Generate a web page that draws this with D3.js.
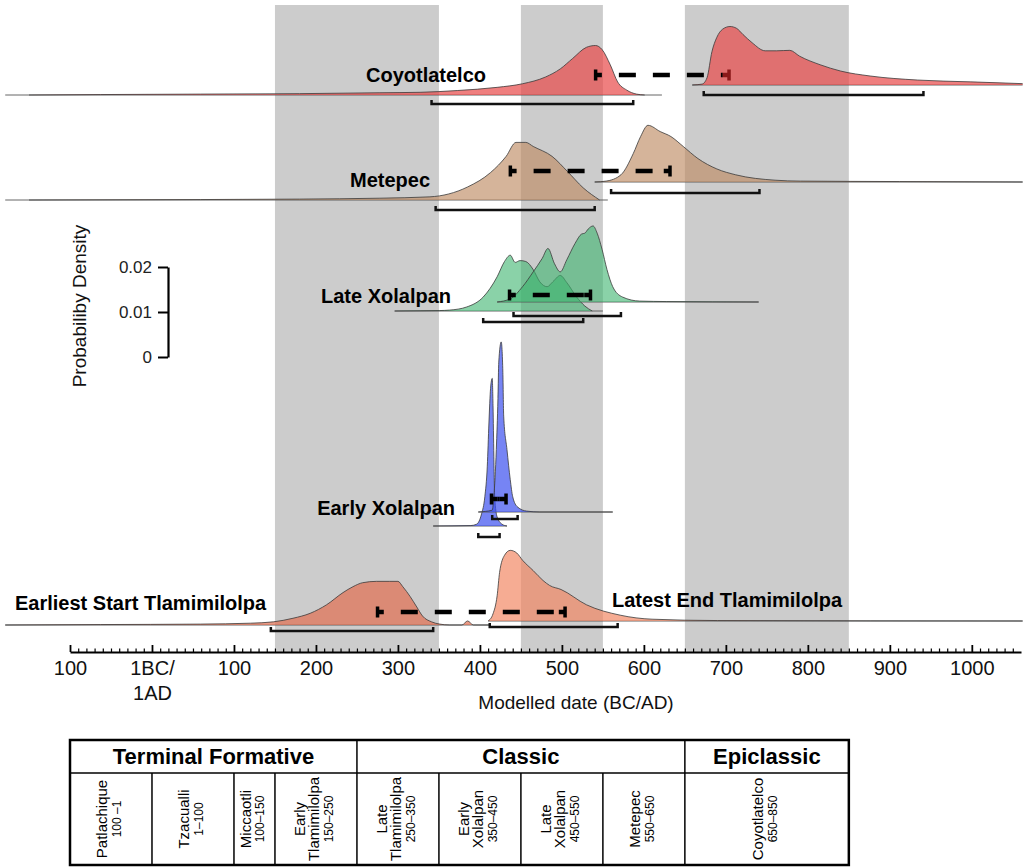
<!DOCTYPE html>
<html>
<head>
<meta charset="utf-8">
<script src="https://cdn.jsdelivr.net/npm/d3@7"></script>
<style>
  body { margin: 0; background: #fff; }
  svg { display: block; font-family: "Liberation Sans", Arial, sans-serif; }
</style>
</head>
<body>
<div id="chart"></div>
<script>
// ---- data: modelled probability densities, [year (BC negative), probability] ----
const coyotlatelcoStart = [[-150,0],[-63,0.0001],[59,0.0002],[180,0.0003],[278,0.0005],[327,0.0006],[373,0.001],[421,0.0017],[452,0.0025],[480,0.004],[498,0.0058],[513,0.0081],[530,0.0106],[541,0.011],[549,0.0101],[559,0.0067],[568,0.0029],[579,0.0011],[591,0.0002],[601,0]];
const coyotlatelcoEnd = [[659,0],[671,0.0002],[677,0.0016],[683,0.0074],[689,0.0106],[696,0.0124],[705,0.013],[713,0.0126],[721,0.0112],[732,0.0094],[748,0.0076],[762,0.0076],[778,0.0077],[790,0.0064],[815,0.0045],[840,0.0031],[876,0.002],[934,0.0011],[998,0.0007],[1062,0.0003]];
const metepecStart = [[-150,0],[59,0.0001],[180,0.0002],[278,0.0004],[339,0.0007],[385,0.0029],[413,0.0061],[432,0.0097],[444,0.0128],[456,0.0128],[465,0.0119],[488,0.0097],[507,0.0063],[526,0.0027],[546,0]];
const metepecEnd = [[540,0],[554,0.0002],[572,0.0016],[587,0.0063],[596,0.0101],[605,0.0126],[620,0.0112],[633,0.0101],[648,0.0079],[666,0.0052],[689,0.0029],[712,0.0016],[760,0.0004],[791,0.0002],[912,0.0001],[1062,0]];
const lateXolalpanStart = [[296,0],[327,0.00005],[351,0.0001],[363,0.0002],[384,0.0009],[404,0.0031],[421,0.0076],[430,0.011],[437,0.0124],[443,0.0108],[449,0.0112],[456,0.011],[465,0.0092],[473,0.0065],[482,0.0054],[489,0.0065],[498,0.0079],[506,0.0063],[518,0.0031],[528,0.0011],[537,0]];
const lateXolalpanEnd = [[421,0],[437,0.0007],[452,0.0034],[465,0.0067],[476,0.0097],[483,0.0119],[491,0.0085],[498,0.0067],[506,0.0094],[516,0.013],[524,0.0151],[528,0.0153],[532,0.0162],[538,0.0169],[543,0.0153],[549,0.0117],[555,0.0072],[562,0.0034],[574,0.0011],[595,0.0002],[628,0.0001],[740,0]];
const earlyXolalpanStart = [[343,0],[389,0.0001],[396,0.0004],[402,0.0027],[406,0.0065],[409,0.0133],[411,0.0229],[413,0.0306],[415,0.0328],[416,0.0267],[417,0.0155],[418,0.0065],[421,0.002],[427,0.0004],[433,0]];
const earlyXolalpanEnd = [[398,0],[415,0.0004],[417,0.0034],[420,0.0139],[422,0.0252],[423,0.0333],[426,0.0378],[428,0.031],[429,0.0213],[433,0.0139],[437,0.0072],[440,0.0034],[446,0.0011],[457,0.0002],[473,0],[562,0]];
const tlamimilolpaStart = [[-179,0],[-63,0.0001],[59,0.0002],[120,0.0004],[148,0.0007],[172,0.0015],[193,0.0026],[213,0.0045],[233,0.0072],[245,0.0085],[257,0.0094],[274,0.0097],[290,0.0097],[300,0.0097],[306,0.0085],[315,0.0063],[323,0.004],[330,0.002],[341,0.0007],[351,0.0002],[363,0],[378,0],[385,0.0009],[392,0],[412,0]];
const tlamimilolpaEnd = [[410,0],[416,0.0016],[421,0.0056],[424,0.0108],[430,0.0146],[437,0.0157],[445,0.0151],[452,0.0135],[465,0.0112],[477,0.009],[485,0.0079],[499,0.007],[530,0.0036],[571,0.0013],[610,0.0004],[690,0.0001],[1062,0]];

const curves = [coyotlatelcoStart, coyotlatelcoEnd, metepecStart, metepecEnd, lateXolalpanStart, lateXolalpanEnd,
                earlyXolalpanStart, earlyXolalpanEnd, tlamimilolpaStart, tlamimilolpaEnd];
// year span of each distribution's baseline
const baselineSpans = [[-179,622],[659,1062],[-179,556],[540,1062],[296,550],[421,740],[343,433],[398,562],[-179,412],[410,1062]];
// 95% ranges (brackets)
const ranges95 = [[341,587],[673,941],[346,540],[560,741],[404,526],[441,572],[398,424],[415,446],[145,343],[412,568]];
// dashed intervals, one per row
const intervals = [[539,706],[435,634],[434,537],[412,434],[273,506]];
const rowLabels = ["Coyotlatelco", "Metepec", "Late Xolalpan", "Early Xolalpan", "Earliest Start Tlamimilolpa", "Latest End Tlamimilolpa"];

const shadedPeriods = [[150,350],[450,550],[650,850]];
const tickYears = [-100,0,100,200,300,400,500,600,700,800,900,1000];
const tickLabels = ["100","1BC/\n1AD","100","200","300","400","500","600","700","800","900","1000"];
const densTicks = [0, 0.01, 0.02];
const densTickLabels = ["0", "0.01", "0.02"];

const periodNames = ["Terminal Formative", "Classic", "Epiclassic"];
const periodSpans = [[-100,250],[250,650],[650,850]];
const phaseNames = ["Patlachique", "Tzacualli", "Miccaotli", "Early\nTlamimilolpa", "Late\nTlamimilolpa", "Early\nXolalpan", "Late\nXolalpan", "Metepec", "Coyotlatelco"];
const phaseDates = ["100 \u20131", "1\u2013100", "100\u2013150", "150\u2013250", "250\u2013350", "350\u2013450", "450\u2013550", "550\u2013650", "650\u2013850"];
const phaseSpans = [[-100,0],[0,100],[100,150],[150,250],[250,350],[350,450],[450,550],[550,650],[650,850]];

// ---- layout ----
const red = {fill: "rgb(232,72,72)", op: 0.7};
const brown = {fill: "rgb(190,140,100)", op: 0.65};
const green = {fill: "rgb(60,180,110)", op: 0.6};
const blue = {fill: "rgb(60,80,240)", op: 0.7};
const distLayout = [
  {base: 95, bracketY: 104, ...red},
  {base: 85, bracketY: 95, ...red},
  {base: 200, bracketY: 210, ...brown},
  {base: 182, bracketY: 193, ...brown},
  {base: 311, bracketY: 322, ...green},
  {base: 302, bracketY: 316, ...green},
  {base: 526, bracketY: 537, ...blue},
  {base: 512, bracketY: 519, ...blue},
  {base: 625, bracketY: 631, fill: "rgb(225,110,80)", op: 0.7},
  {base: 621, bracketY: 627, fill: "rgb(242,132,96)", op: 0.68}
];
const intervalLayout = [
  {y: 75, endColor: "#8b1a1a"}, {y: 171}, {y: 295}, {y: 499}, {y: 612}
];
const labelLayout = [
  {x: 486, y: 75, anchor: "end"}, {x: 430, y: 180, anchor: "end"}, {x: 451, y: 296, anchor: "end"},
  {x: 455, y: 508, anchor: "end"}, {x: 15, y: 603, anchor: "start"}, {x: 612, y: 600, anchor: "start"}
];

const width = 1023, height = 867;
const axisY = 652;

const svg = d3.select('#chart').append('svg')
    .attr('width', width)
    .attr('height', height);

const x = d3.scaleLinear().domain([-100, 1060]).range([70, 1021]);
const dens = d3.scaleLinear().domain([0, 0.02]).range([0, 90]);

// grey phase bands
svg.append('g').selectAll('rect')
    .data(shadedPeriods)
    .join('rect')
    .attr('x', d => x(d[0]))
    .attr('width', d => x(d[1]) - x(d[0]))
    .attr('y', 5)
    .attr('height', axisY - 5)
    .attr('fill', '#cccccc');

// distributions
const area = d3.area()
    .x(d => x(d[0]))
    .y0(0)
    .y1(d => -dens(d[1]))
    .curve(d3.curveMonotoneX);
const outline = d3.line()
    .x(d => x(d[0]))
    .y(d => -dens(d[1]))
    .curve(d3.curveMonotoneX);

const dists = curves.map((c, i) => ({curve: c, span: baselineSpans[i], r95: ranges95[i], ...distLayout[i]}));

const dg = svg.append('g').selectAll('g')
    .data(dists)
    .join('g')
    .attr('transform', d => `translate(0,${d.base})`);

dg.append('line')
    .attr('x1', d => x(d.span[0]))
    .attr('x2', d => x(d.span[1]))
    .attr('stroke', '#555')
    .attr('stroke-width', 0.9);

dg.append('path')
    .attr('d', d => area(d.curve))
    .attr('fill', d => d.fill)
    .attr('fill-opacity', d => d.op);

dg.append('path')
    .attr('d', d => outline(d.curve))
    .attr('fill', 'none')
    .attr('stroke', '#3a3a3a')
    .attr('stroke-width', 0.8);

// 95% range brackets
svg.append('g').selectAll('path')
    .data(dists)
    .join('path')
    .attr('d', d => {
        const x1 = x(d.r95[0]), x2 = x(d.r95[1]), y = d.bracketY;
        return `M${x1},${y - 4}V${y}H${x2}V${y - 4}`;
    })
    .attr('fill', 'none')
    .attr('stroke', '#111')
    .attr('stroke-width', 2.5);

// dashed intervals with end markers
const ig = svg.append('g').selectAll('g')
    .data(intervals.map((s, i) => ({s, ...intervalLayout[i]})))
    .join('g');

ig.append('line')
    .attr('x1', d => x(d.s[0]) + 8)
    .attr('x2', d => x(d.s[1]) - 8)
    .attr('y1', d => d.y)
    .attr('y2', d => d.y)
    .attr('stroke', '#000')
    .attr('stroke-width', 4.5)
    .attr('stroke-dasharray', d => (x(d.s[1]) - x(d.s[0]) < 50) ? null : '17,17')
    .attr('stroke-dashoffset', 17);

ig.append('path')
    .attr('d', d => {
        const x1 = x(d.s[0]);
        return `M${x1},${d.y - 5.5}h3.5v11h-3.5z M${x1},${d.y - 2.2}h8v4.4h-8z`;
    })
    .attr('fill', '#000');

ig.append('path')
    .attr('d', d => {
        const x2 = x(d.s[1]);
        return `M${x2},${d.y - 5.5}h-3.5v11h3.5z M${x2},${d.y - 2.2}h-8v4.4h8z`;
    })
    .attr('fill', d => d.endColor || '#000');

// row labels
svg.append('g').selectAll('text')
    .data(rowLabels.map((t, i) => ({t, ...labelLayout[i]})))
    .join('text')
    .attr('x', d => d.x)
    .attr('y', d => d.y)
    .attr('dy', '0.35em')
    .attr('text-anchor', d => d.anchor)
    .style('font-size', '20px')
    .style('font-weight', 'bold')
    .text(d => d.t);

// x axis: minor ticks, then major
const minorYears = d3.range(-100, 1060, 10).filter(v => v % 100 !== 0);
svg.append('g')
    .attr('transform', `translate(0,${axisY})`)
    .call(d3.axisBottom(x).tickValues(minorYears).tickSize(-3.5).tickSizeOuter(0).tickFormat(''))
    .call(g => g.select('.domain').remove())
    .call(g => g.selectAll('.tick line').attr('stroke', '#000').attr('stroke-width', 1.2));

const xAxis = svg.append('g')
    .attr('transform', `translate(0,${axisY})`)
    .call(d3.axisBottom(x).tickValues(tickYears).tickSize(-7).tickSizeOuter(0).tickPadding(9)
        .tickFormat((d, i) => tickLabels[i]));
xAxis.select('.domain').attr('stroke', '#000').attr('stroke-width', 2);
xAxis.selectAll('.tick line').attr('stroke', '#000').attr('stroke-width', 1.8);
xAxis.selectAll('.tick text')
    .style('font-size', '20px')
    .style('font-family', '"Liberation Sans", Arial, sans-serif')
    .attr('fill', '#111')
    .each(function() {
        const t = d3.select(this);
        const lines = t.text().split('\n');
        if (lines.length > 1) {
            t.text(null);
            lines.forEach((l, j) => t.append('tspan').attr('x', 0).attr('dy', j === 0 ? '0.71em' : '1.25em').text(l));
            t.attr('dy', null);
        }
    });

svg.append('text')
    .attr('x', 576)
    .attr('y', 709)
    .attr('text-anchor', 'middle')
    .style('font-size', '19px')
    .attr('fill', '#111')
    .text('Modelled date (BC/AD)');

// probability density scale bar
const sb = d3.scaleLinear().domain([0, 0.02]).range([357, 267]);
const sbAxis = svg.append('g')
    .attr('transform', 'translate(168,0)')
    .call(d3.axisLeft(sb).tickValues(densTicks).tickSize(10).tickSizeOuter(0).tickPadding(6)
        .tickFormat((d, i) => densTickLabels[i]));
sbAxis.select('.domain').attr('stroke', '#000').attr('stroke-width', 2.2);
sbAxis.selectAll('.tick line').attr('stroke', '#000').attr('stroke-width', 2);
sbAxis.selectAll('.tick text')
    .style('font-size', '17px')
    .style('font-family', '"Liberation Sans", Arial, sans-serif')
    .attr('fill', '#222');

svg.append('text')
    .attr('transform', 'translate(86,306) rotate(-90)')
    .attr('text-anchor', 'middle')
    .style('font-size', '19px')
    .attr('fill', '#111')
    .text('Probabiliby Density');

// phase table
const tTop = 740, tMid = 773, tBot = 865;
const tbl = svg.append('g');

tbl.append('line')
    .attr('x1', x(-100)).attr('x2', x(850))
    .attr('y1', tMid).attr('y2', tMid)
    .attr('stroke', '#000').attr('stroke-width', 1.5);

tbl.selectAll('line.period')
    .data(periodSpans.slice(1))
    .join('line')
    .attr('class', 'period')
    .attr('x1', d => x(d[0])).attr('x2', d => x(d[0]))
    .attr('y1', tTop).attr('y2', tMid)
    .attr('stroke', '#000').attr('stroke-width', 1.5);

tbl.selectAll('line.phase')
    .data(phaseSpans.slice(1))
    .join('line')
    .attr('class', 'phase')
    .attr('x1', d => x(d[0])).attr('x2', d => x(d[0]))
    .attr('y1', tMid).attr('y2', tBot)
    .attr('stroke', '#000').attr('stroke-width', 1.5);

tbl.append('rect')
    .attr('x', x(-100)).attr('y', tTop)
    .attr('width', x(850) - x(-100)).attr('height', tBot - tTop)
    .attr('fill', 'none').attr('stroke', '#000').attr('stroke-width', 2.5);

tbl.selectAll('text.period')
    .data(periodNames.map((n, i) => ({n, s: periodSpans[i]})))
    .join('text')
    .attr('class', 'period')
    .attr('x', d => (x(d.s[0]) + x(d.s[1])) / 2)
    .attr('y', (tTop + tMid) / 2)
    .attr('dy', '0.36em')
    .attr('text-anchor', 'middle')
    .style('font-size', '22px')
    .style('font-weight', 'bold')
    .text(d => d.n);

const cellMidY = 819;
const nameGap = 14, dateGap = 13.5;
tbl.selectAll('text.phase')
    .data(phaseNames.map((n, i) => ({lines: n.split('\n'), date: phaseDates[i], s: phaseSpans[i]})))
    .join('text')
    .attr('class', 'phase')
    .each(function(d) {
        const nL = d.lines.length;
        const blockW = (nL - 1) * nameGap + dateGap;
        const cx = (x(d.s[0]) + x(d.s[1])) / 2 - 2;
        const t = d3.select(this)
            .attr('transform', `translate(${cx - blockW / 2 + 5},${cellMidY}) rotate(-90)`)
            .attr('text-anchor', 'middle');
        d.lines.forEach((l, j) => {
            t.append('tspan').attr('x', 0).attr('y', j * nameGap).style('font-size', '15px').text(l);
        });
        t.append('tspan').attr('x', 0).attr('y', (nL - 1) * nameGap + dateGap).style('font-size', '12px').text(d.date);
    });
</script>
</body>
</html>
